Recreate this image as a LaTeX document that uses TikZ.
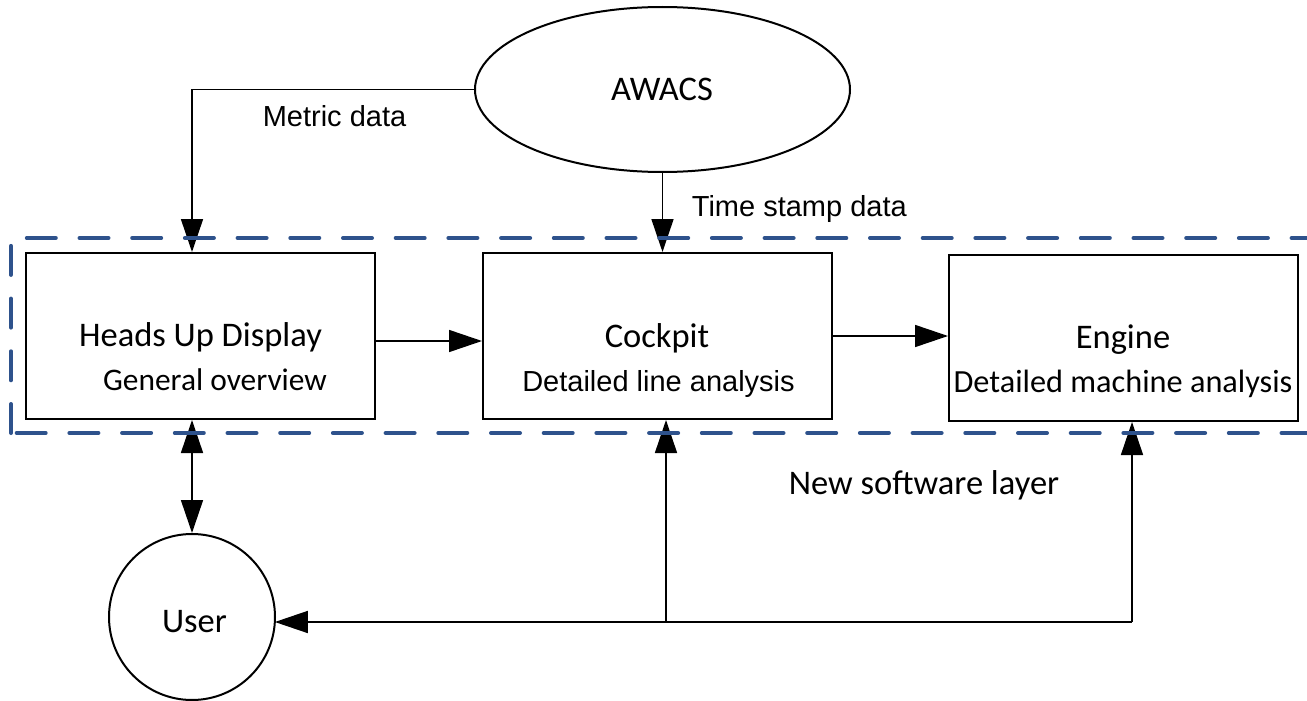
\documentclass[tikz,border=0pt]{standalone}
\usepackage{fontspec}
\setmainfont{Carlito}
\newfontfamily\arial{Liberation Sans}
\usetikzlibrary{arrows.meta,shapes.geometric,calc}
\definecolor{layerblue}{RGB}{46,82,140}
\begin{document}
\begin{tikzpicture}[x=1pt,y=-1pt,
  box/.style={draw=black,line width=2pt,fill=white,rectangle,inner sep=0pt},
  conn/.style={draw=black,line width=1.6pt},
  tip/.style={-{Triangle[length=33pt,width=22pt]}},
  tips/.style={{Triangle[length=33pt,width=22pt]}-{Triangle[length=33pt,width=22pt]}},
  big/.style={inner sep=0pt,anchor=base,font=\fontsize{34.5pt}{40pt}\selectfont},
  lbl/.style={inner sep=0pt,anchor=base,font=\arial\fontsize{29pt}{34pt}\selectfont},
  sub/.style={inner sep=0pt,anchor=base},
  layer/.style={draw=layerblue,line width=4pt,line cap=round,dash pattern=on 29pt off 23.7pt}
]
\clip (0,0) rectangle (1307,701);
\fill[white] (0,0) rectangle (1307,701);

% shapes
\node[ellipse,draw=black,line width=2pt,fill=white,minimum width=375pt,minimum height=165pt,inner sep=0pt] (awacs) at (662.5,89.5) {};
\node[box,minimum width=349pt,minimum height=166pt] (hud) at (200.5,336) {};
\node[box,minimum width=349pt,minimum height=166pt] (cockpit) at (657.5,336) {};
\node[box,minimum width=348.5pt,minimum height=166.5pt] (engine) at (1123.25,337.75) {};
\node[circle,draw=black,line width=2pt,fill=white,minimum size=166pt,inner sep=0pt] (user) at (192,617) {};

\coordinate (j1) at (666,622);
\coordinate (j2) at (1132,622);

% connectors
\draw[conn,tip] (awacs.west) -| (hud.north -| user.center);
\draw[conn,tip] (awacs.south) -- (awacs.south |- cockpit.north);
\draw[conn,tip] ([yshift=-5pt]hud.east) -- ([yshift=-5pt]cockpit.west);
\draw[conn,tip] (cockpit.east) -- (cockpit.east -| engine.west);
\draw[conn,tips] (hud.south -| user.center) -- (user.north);
\draw[conn,tip] (j2) -- (j1) -- ($(user.center)+(82.85,5)$);
\draw[conn,tip] (j1) -- (j1 |- cockpit.south);
\draw[conn,tip] (j2) -- (j2 |- engine.south);

% texts
\node[big] (tawacs) at (662,100) {AWACS};
\node[lbl] (tmetric) at (334.5,126.7) {Metric data};
\node[lbl,anchor=base west] (ttime) at (691.7,216.7) {Time stamp data};
\node[big] (thud) at (200.5,346.7) {Heads Up Display};
\node[sub,font=\fontsize{31.4pt}{36pt}\selectfont] (thud2) at (215,390.7) {General overview};
\node[big] (tcock) at (657,347.7) {Cockpit};
\node[lbl] (tcock2) at (658.5,391) {Detailed line analysis};
\node[big] (teng) at (1123,348) {Engine};
\node[sub,font=\fontsize{32.3pt}{37pt}\selectfont] (teng2) at (1123,392) {Detailed machine analysis};
\node[big] (tuser) at (194.5,632.3) {User};
\node[big] (tlayer) at (924,494) {New software layer};

% dashed layer boundary
\draw[layer] (11,433) -- (11,238) -- (1330,238);
\draw[layer] (16.7,433) -- (1330,433);
\end{tikzpicture}
\end{document}
